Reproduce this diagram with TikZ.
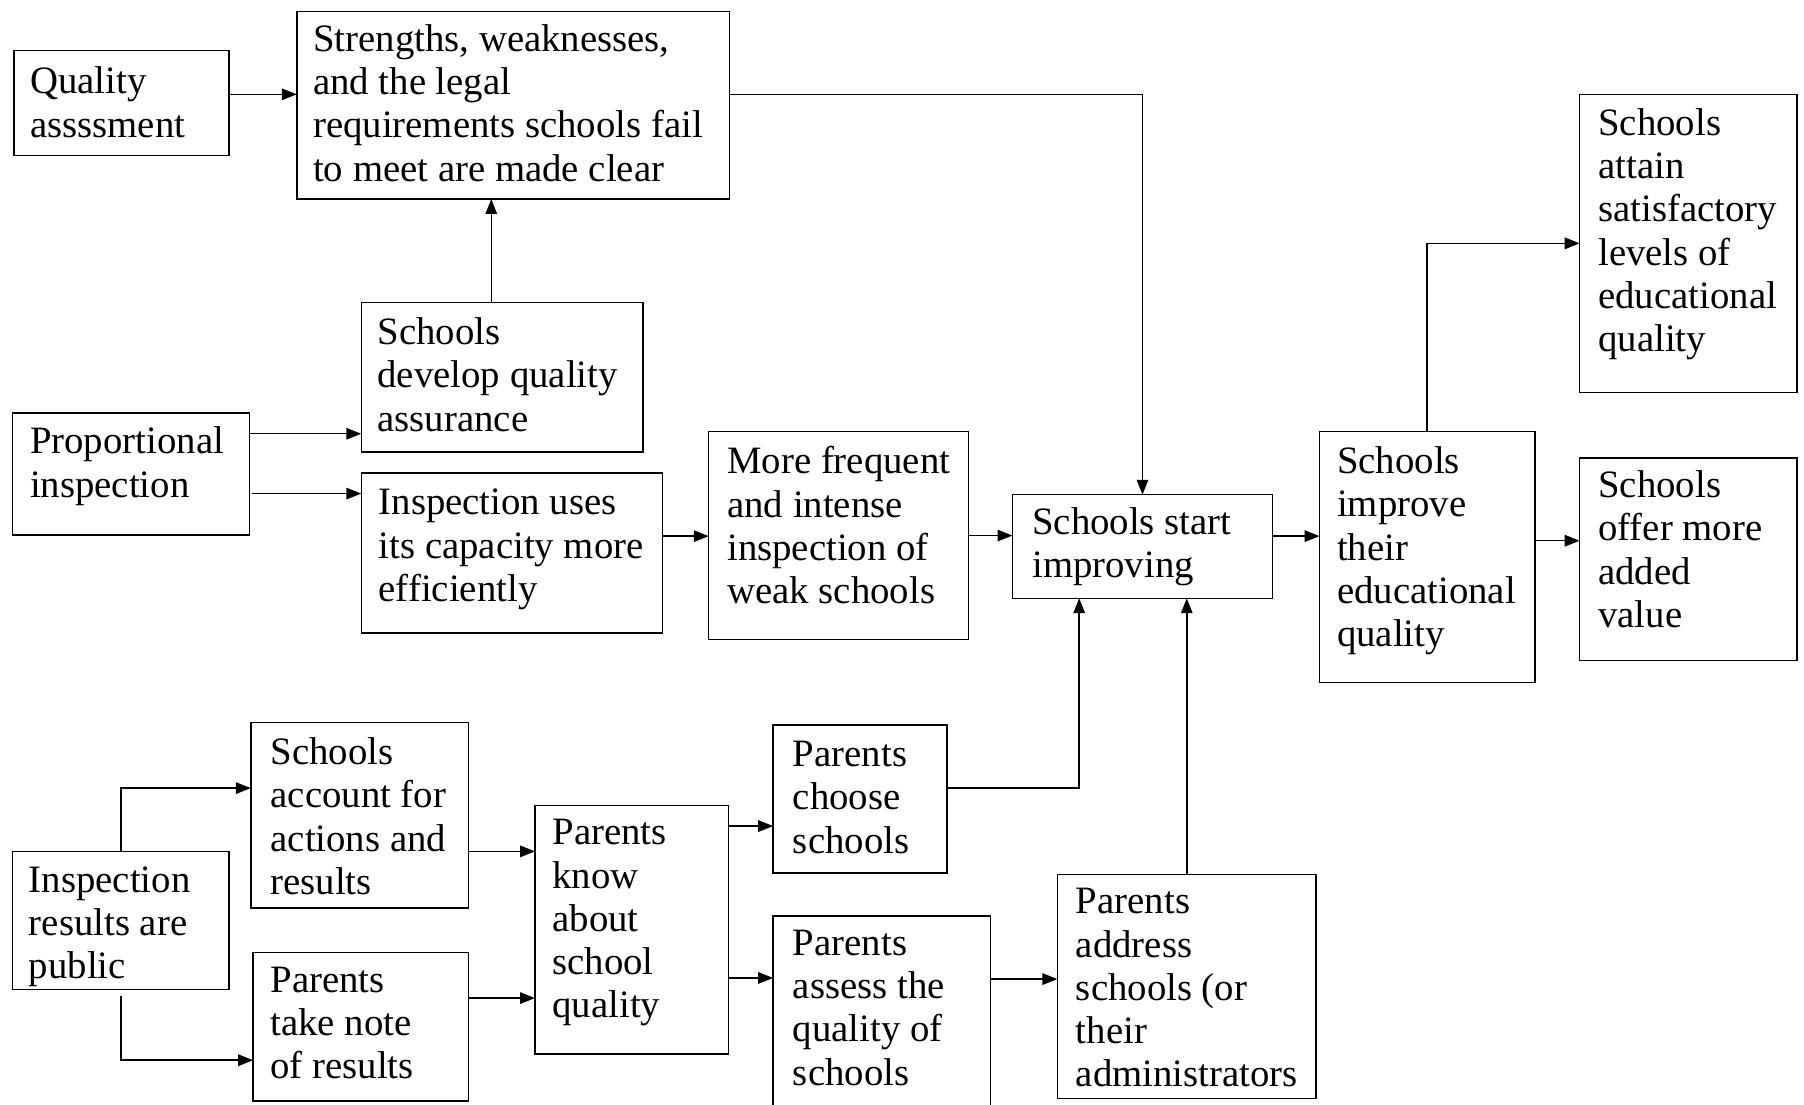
\documentclass[tikz,border=0pt]{standalone}
\usepackage{fontspec}
\setmainfont{Liberation Serif}
\usetikzlibrary{arrows.meta,calc,fit}

\begin{document}
\begin{tikzpicture}[x=1pt,y=-1pt,
  frame/.style={draw, line width=1.3pt, inner sep=0pt, outer sep=0pt},
  words/.style={anchor=north west, inner sep=0pt, align=left,
    font=\fontsize{33.7}{37.6}\selectfont},
  flow/.style={draw, line width=1.3pt, -{Triangle[length=13pt,width=10pt]}}]

\fill[white] (0,0) rectangle (1568,960);
\useasboundingbox (0,0) rectangle (1568,960);

% boxes: corners, then the text set from the top-left
\node[frame, fit={(12,44) (199,135)}] (qa) {};
\node[words] (qa-t) at (26,58) {Quality\\assssment};

\node[frame, fit={(258,10) (634,173)}] (str) {};
\node[words] (str-t) at (272,21) {Strengths, weaknesses,\\and the legal\\requirements schools fail\\to meet are made clear};

\node[frame, fit={(314,263) (559,393)}] (sdq) {};
\node[words] (sdq-t) at (328,276) {Schools\\develop quality\\assurance};

\node[frame, fit={(11,359) (217,465)}] (pi) {};
\node[words] (pi-t) at (26,371) {Proportional\\inspection};

\node[frame, fit={(314,411) (576,550)}] (iuc) {};
\node[words] (iuc-t) at (329,425) {Inspection uses\\its capacity more\\efficiently};

\node[frame, fit={(616,375) (842,556)}] (mf) {};
\node[words] (mf-t) at (632,388) {More frequent\\and intense\\inspection of\\weak schools};

\node[frame, fit={(880,430) (1106,520)}] (ssi) {};
\node[words] (ssi-t) at (897,441) {Schools start\\improving};

\node[frame, fit={(1147,375) (1334,593)}] (sie) {};
\node[words] (sie-t) at (1162,388) {Schools\\improve\\their\\educational\\quality};

\node[frame, fit={(1373,82) (1562,341)}] (sat) {};
\node[words] (sat-t) at (1389,94) {Schools\\attain\\satisfactory\\levels of\\educational\\quality};

\node[frame, fit={(1373,398) (1562,574)}] (sov) {};
\node[words] (sov-t) at (1389,409) {Schools\\offer more\\added\\value};

\node[frame, fit={(11,740) (199,860)}] (irp) {};
\node[words] (irp-t) at (25,753) {Inspection\\results are\\public};

\node[frame, fit={(218,628) (407,789)}] (saa) {};
\node[words] (saa-t) at (235,641) {Schools\\account for\\actions and\\results};

\node[frame, fit={(220,828) (407,957)}] (ptn) {};
\node[words] (ptn-t) at (235,840) {Parents\\take note\\of results};

\node[frame, fit={(465,700) (633,916)}] (pk) {};
\node[words] (pk-t) at (480,712) {Parents\\know\\about\\school\\quality};

\node[frame, fit={(672,630) (823,759)}] (pc) {};
\node[words] (pc-t) at (689,644) {Parents\\choose\\schools};

\node[frame, fit={(672,796) (861,968)}] (pa) {};
\node[words] (pa-t) at (689,808) {Parents\\assess the\\quality of\\schools};

\node[frame, fit={(919,760) (1144,955)}] (par) {};
\node[words] (par-t) at (935,772) {Parents\\address\\schools (or\\their\\administrators};

% connectors
\draw[flow] ($(qa.east)+(0,-7.5)$) coordinate (c1) -- (c1 -| str.west);
\draw[flow] ($(str.east)+(0,-9.5)$) -| (ssi.north);
\draw[flow] ($(sdq.north)+(-9.5,0)$) coordinate (c2) -- (c2 |- str.south);
\draw[flow] ($(pi.east)+(0,-35)$) coordinate (c3) -- (c3 -| sdq.west);
\draw[flow] ($(pi.east)+(2,17)$) coordinate (c4) -- (c4 -| iuc.west);
\draw[flow] ($(iuc.east)+(0,-14.5)$) coordinate (c5) -- (c5 -| mf.west);
\draw[flow] (mf.east) -- (mf.east -| ssi.west);
\draw[flow] ($(ssi.east)+(0,-9)$) coordinate (c6) -- (c6 -| sie.west);
\draw[flow] (sie.north) |- (sat.west);
\draw[flow] ($(sie.east)+(0,-14)$) coordinate (c7) -- (c7 -| sov.west);

\draw[flow] (irp.north) |- ($(saa.west)+(0,-23.5)$);
\draw[flow] ($(irp.south)+(0,6)$) |- ($(ptn.west)+(0,29)$);
\draw[flow] ($(saa.east)+(0,31.5)$) coordinate (c8) -- (c8 -| pk.west);
\draw[flow] ($(ptn.east)+(0,-25)$) coordinate (c9) -- (c9 -| pk.west);
\draw[flow] ($(pk.east)+(0,-90)$) coordinate (c10) -- (c10 -| pc.west);
\draw[flow] ($(pk.east)+(0,42)$) coordinate (c11) -- (c11 -| pa.west);
\draw[flow] ($(pa.east)+(0,-31)$) coordinate (c12) -- (c12 -| par.west);
\draw[flow] ($(pc.east)+(0,-9.5)$) -| ($(ssi.south)+(-55,0)$);
\draw[flow] (par.north) -- (par.north |- ssi.south);

\end{tikzpicture}
\end{document}
